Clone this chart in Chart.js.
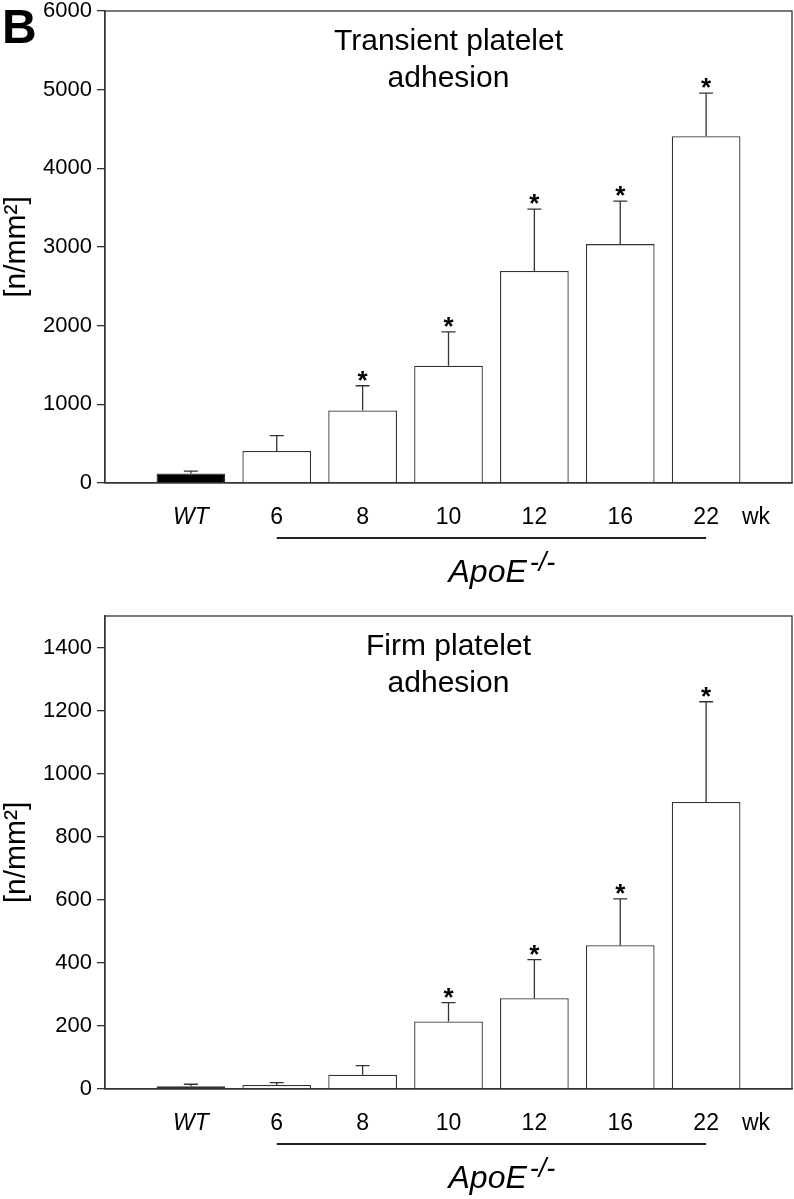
<!DOCTYPE html>
<html>
<head>
<meta charset="utf-8">
<script src="https://cdn.jsdelivr.net/npm/chart.js@4.4.0/dist/chart.umd.min.js"></script>
<style>
  html, body { margin: 0; padding: 0; background: #fff; }
  #wrap { position: relative; width: 794px; height: 1199px; overflow: hidden; }
  canvas { position: absolute; left: 0; }
  #top { top: -5px; }
  #bottom { top: 600px; }
</style>
</head>
<body>
<div id="wrap">
  <canvas id="top" width="794" height="605"></canvas>
  <canvas id="bottom" width="794" height="599"></canvas>
</div>
<script>
// groups on the x axis (weeks of ApoE-/- mice, WT = control)
const groups = ['WT', '6', '8', '10', '12', '16', '22'];

// transient platelet adhesion, mean and upper error (n/mm2)
const transientMean = [122, 407, 922, 1490, 2694, 3037, 4409];
const transientErr  = [30, 194, 314, 430, 788, 546, 547];
const transientSig  = [false, false, true, true, true, true, true];
const transientTicks = [0, 1000, 2000, 3000, 4000, 5000, 6000];
const transientMax = 6000;

// firm platelet adhesion
const firmMean = [9, 13, 45, 214, 288, 456, 910];
const firmErr  = [6, 7, 29, 60, 122, 147, 318];
const firmSig  = [false, false, false, true, true, true, true];
const firmTicks = [0, 200, 400, 600, 800, 1000, 1200, 1400];
const firmMax = 1500;

const FONT = "'Liberation Sans', Arial, Helvetica, sans-serif";
const LINE = '#333';
const TEXT = '#000';

// empty slot on both ends so the bars sit one slot in from the frame
const labels = ['', ...groups, ''];

const decorations = {
  id: 'decorations',
  afterDatasetsDraw(chart, args, o) {
    const ctx = chart.ctx;
    const meta = chart.getDatasetMeta(0);
    const y = chart.scales.y;
    ctx.save();
    ctx.strokeStyle = LINE;
    ctx.lineWidth = 1.3;
    ctx.fillStyle = TEXT;
    ctx.font = 'bold 26px ' + FONT;
    ctx.textAlign = 'center';
    ctx.textBaseline = 'alphabetic';
    o.mean.forEach((m, i) => {
      const bar = meta.data[i + 1];
      const top = y.getPixelForValue(m);
      const cap = y.getPixelForValue(m + o.err[i]);
      ctx.beginPath();
      ctx.moveTo(bar.x, top);
      ctx.lineTo(bar.x, cap);
      ctx.moveTo(bar.x - 7, cap);
      ctx.lineTo(bar.x + 7, cap);
      ctx.stroke();
      if (o.sig[i]) ctx.fillText('*', bar.x, cap + 3);
    });
    ctx.restore();
  },
  afterDraw(chart, args, o) {
    const ctx = chart.ctx;
    const a = chart.chartArea;
    const meta = chart.getDatasetMeta(0);
    ctx.save();
    // box round the plot
    ctx.strokeStyle = LINE;
    ctx.lineWidth = 1.3;
    ctx.strokeRect(a.left, a.top, a.right - a.left, a.bottom - a.top);

    ctx.fillStyle = TEXT;
    ctx.textAlign = 'center';
    ctx.textBaseline = 'alphabetic';
    ctx.font = '30px ' + FONT;
    const cx = (a.left + a.right) / 2;
    ctx.fillText(o.title[0], cx, a.top + 39);
    ctx.fillText(o.title[1], cx, a.top + 76);

    ctx.font = '23px ' + FONT;
    ctx.fillText('wk', a.right - 36, a.bottom + 41);

    // bracket line under the ApoE-/- groups
    const x6 = meta.data[2].x, x22 = meta.data[7].x;
    ctx.lineWidth = 2;
    ctx.strokeStyle = '#222';
    ctx.beginPath();
    ctx.moveTo(x6, a.bottom + 55);
    ctx.lineTo(x22, a.bottom + 55);
    ctx.stroke();

    ctx.textAlign = 'left';
    ctx.font = 'italic 32px ' + FONT;
    const ax = meta.data[4].x;
    ctx.fillText('ApoE', ax, a.bottom + 99);
    const w = ctx.measureText('ApoE').width;
    ctx.font = 'italic 27px ' + FONT;
    ctx.fillText('-/-', ax + w + 3, a.bottom + 88);

    if (o.letter) {
      ctx.font = 'bold 48px ' + FONT;
      ctx.fillText(o.letter, 2, a.top + 32);
    }
    ctx.restore();
  }
};

function makeChart(id, mean, err, sig, ticks, max, title, xHeight, letter) {
  const ctx = document.getElementById(id).getContext('2d');
  return new Chart(ctx, {
    type: 'bar',
    data: {
      labels: labels,
      datasets: [{
        data: [null, ...mean, null],
        backgroundColor: labels.map(l => l === 'WT' ? '#000' : '#fff'),
        borderColor: LINE,
        borderWidth: 1.3,
        barPercentage: 0.8,
        categoryPercentage: 1.0
      }]
    },
    options: {
      responsive: false,
      animation: false,
      events: [],
      layout: { padding: { top: 16, right: 2, left: 0, bottom: 0 } },
      plugins: {
        legend: { display: false },
        tooltip: { enabled: false },
        decorations: { mean: mean, err: err, sig: sig, title: title, letter: letter }
      },
      scales: {
        x: {
          offset: false,
          // invisible tick marks only push the labels down
          grid: { display: true, drawOnChartArea: false, drawTicks: true, tickLength: 21, color: 'rgba(0,0,0,0)' },
          border: { display: true, color: LINE, width: 1.3 },
          ticks: {
            autoSkip: false,
            maxRotation: 0,
            padding: 0,
            color: TEXT,
            font: (c) => ({
              family: FONT,
              size: 23,
              style: c.tick && c.tick.label === 'WT' ? 'italic' : 'normal'
            })
          },
          afterFit: (s) => { s.height = xHeight; }
        },
        y: {
          min: 0,
          max: max,
          grid: { display: true, drawOnChartArea: false, drawTicks: true, tickLength: 8, color: LINE, lineWidth: 1.3 },
          border: { display: true, color: LINE, width: 1.3 },
          ticks: {
            padding: 5,
            color: TEXT,
            font: { family: FONT, size: 22, lineHeight: 1.0 },
            callback: (v) => String(v)
          },
          afterBuildTicks: (s) => { s.ticks = ticks.map(v => ({ value: v })); },
          title: {
            display: true,
            text: '[n/mm²]',
            color: TEXT,
            padding: { top: 0, bottom: 0 },
            font: { family: FONT, size: 30, lineHeight: 1.1 }
          },
          afterFit: (s) => { s.width = 105; }
        }
      }
    },
    plugins: [decorations]
  });
}

makeChart('top', transientMean, transientErr, transientSig, transientTicks, transientMax,
  ['Transient platelet', 'adhesion'], 117, 'B');
makeChart('bottom', firmMean, firmErr, firmSig, firmTicks, firmMax,
  ['Firm platelet', 'adhesion'], 110, null);
</script>
</body>
</html>
